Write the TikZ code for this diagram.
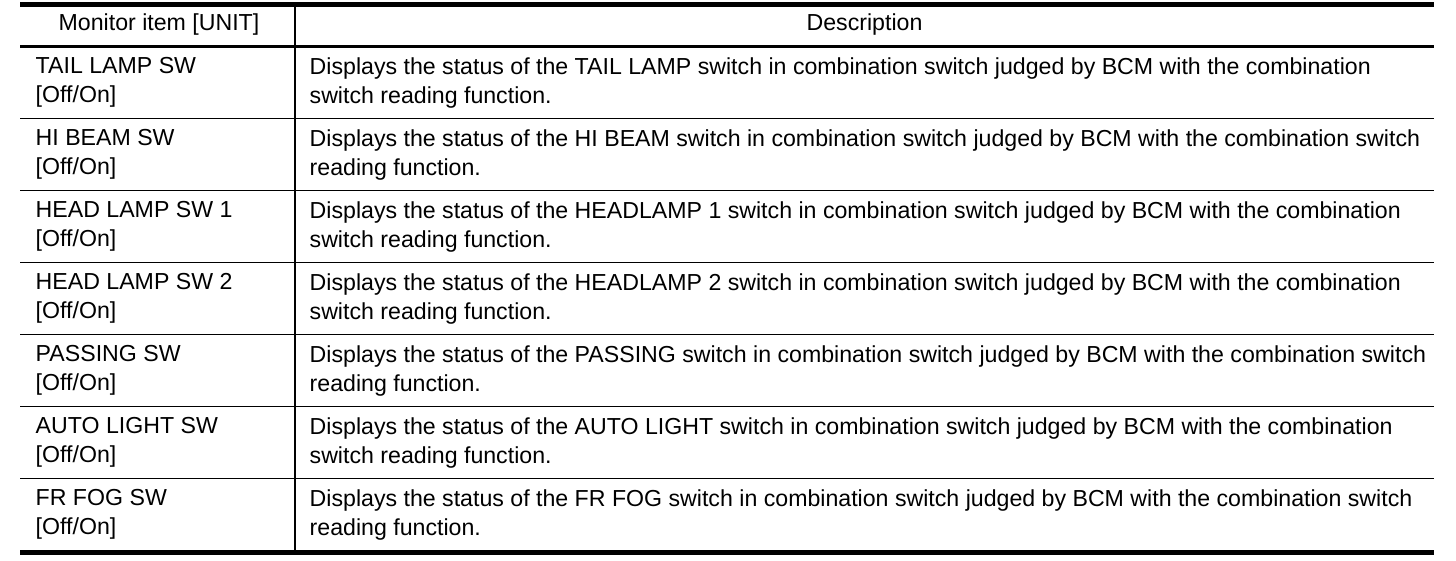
\documentclass[tikz,border=0pt]{standalone}
\usepackage{fontspec}
\setmainfont{Liberation Sans}
\usepackage{tikz}
\usetikzlibrary{positioning}

\begin{document}
\begin{tikzpicture}[x=1pt,y=-1pt,font=\fontsize{23.15}{28.6}\selectfont,
  cell/.style={anchor=north west,align=left,inner sep=0pt},
  head/.style={anchor=base,inner sep=0pt}]
\useasboundingbox (0,0) rectangle (1456,560);

% rules of the table
\draw[line width=5pt] (20,4.5) -- (1434,4.5);
\draw[line width=2.8pt] (20,46.5) -- (1434,46.5);
\foreach \r in {1,...,6}
  \draw[line width=1.8pt] (20,46.5+72*\r) -- (1434,46.5+72*\r);
\draw[line width=5pt] (20,552.5) -- (1434,552.5);
\draw[line width=1.8pt] (295,4.5) -- (295,552.5);

% header
\node[head] (itemhead) at (159,30.5) {Monitor item [UNIT]};
\node[head] (deschead) at (864.5,30.5) {Description};

% rows
\foreach \r/\name/\lineA/\lineB in {
  0/TAIL LAMP SW/{Displays the status of the TAIL LAMP switch in combination switch judged by BCM with the combination}/{switch reading function.},
  1/HI BEAM SW/{Displays the status of the HI BEAM switch in combination switch judged by BCM with the combination switch}/{reading function.},
  2/HEAD LAMP SW 1/{Displays the status of the HEADLAMP 1 switch in combination switch judged by BCM with the combination}/{switch reading function.},
  3/HEAD LAMP SW 2/{Displays the status of the HEADLAMP 2 switch in combination switch judged by BCM with the combination}/{switch reading function.},
  4/PASSING SW/{Displays the status of the PASSING switch in combination switch judged by BCM with the combination switch}/{reading function.},
  5/AUTO LIGHT SW/{Displays the status of the AUTO LIGHT switch in combination switch judged by BCM with the combination}/{switch reading function.},
  6/FR FOG SW/{Displays the status of the FR FOG switch in combination switch judged by BCM with the combination switch}/{reading function.}}
{
  \node[cell] (item\r) at (35.5,57.6+72*\r) {\name\\{}[Off/On]};
  \node[cell] (desc\r) at (309.5,57.6+72*\r) {\lineA\\\lineB};
}
\end{tikzpicture}
\end{document}
